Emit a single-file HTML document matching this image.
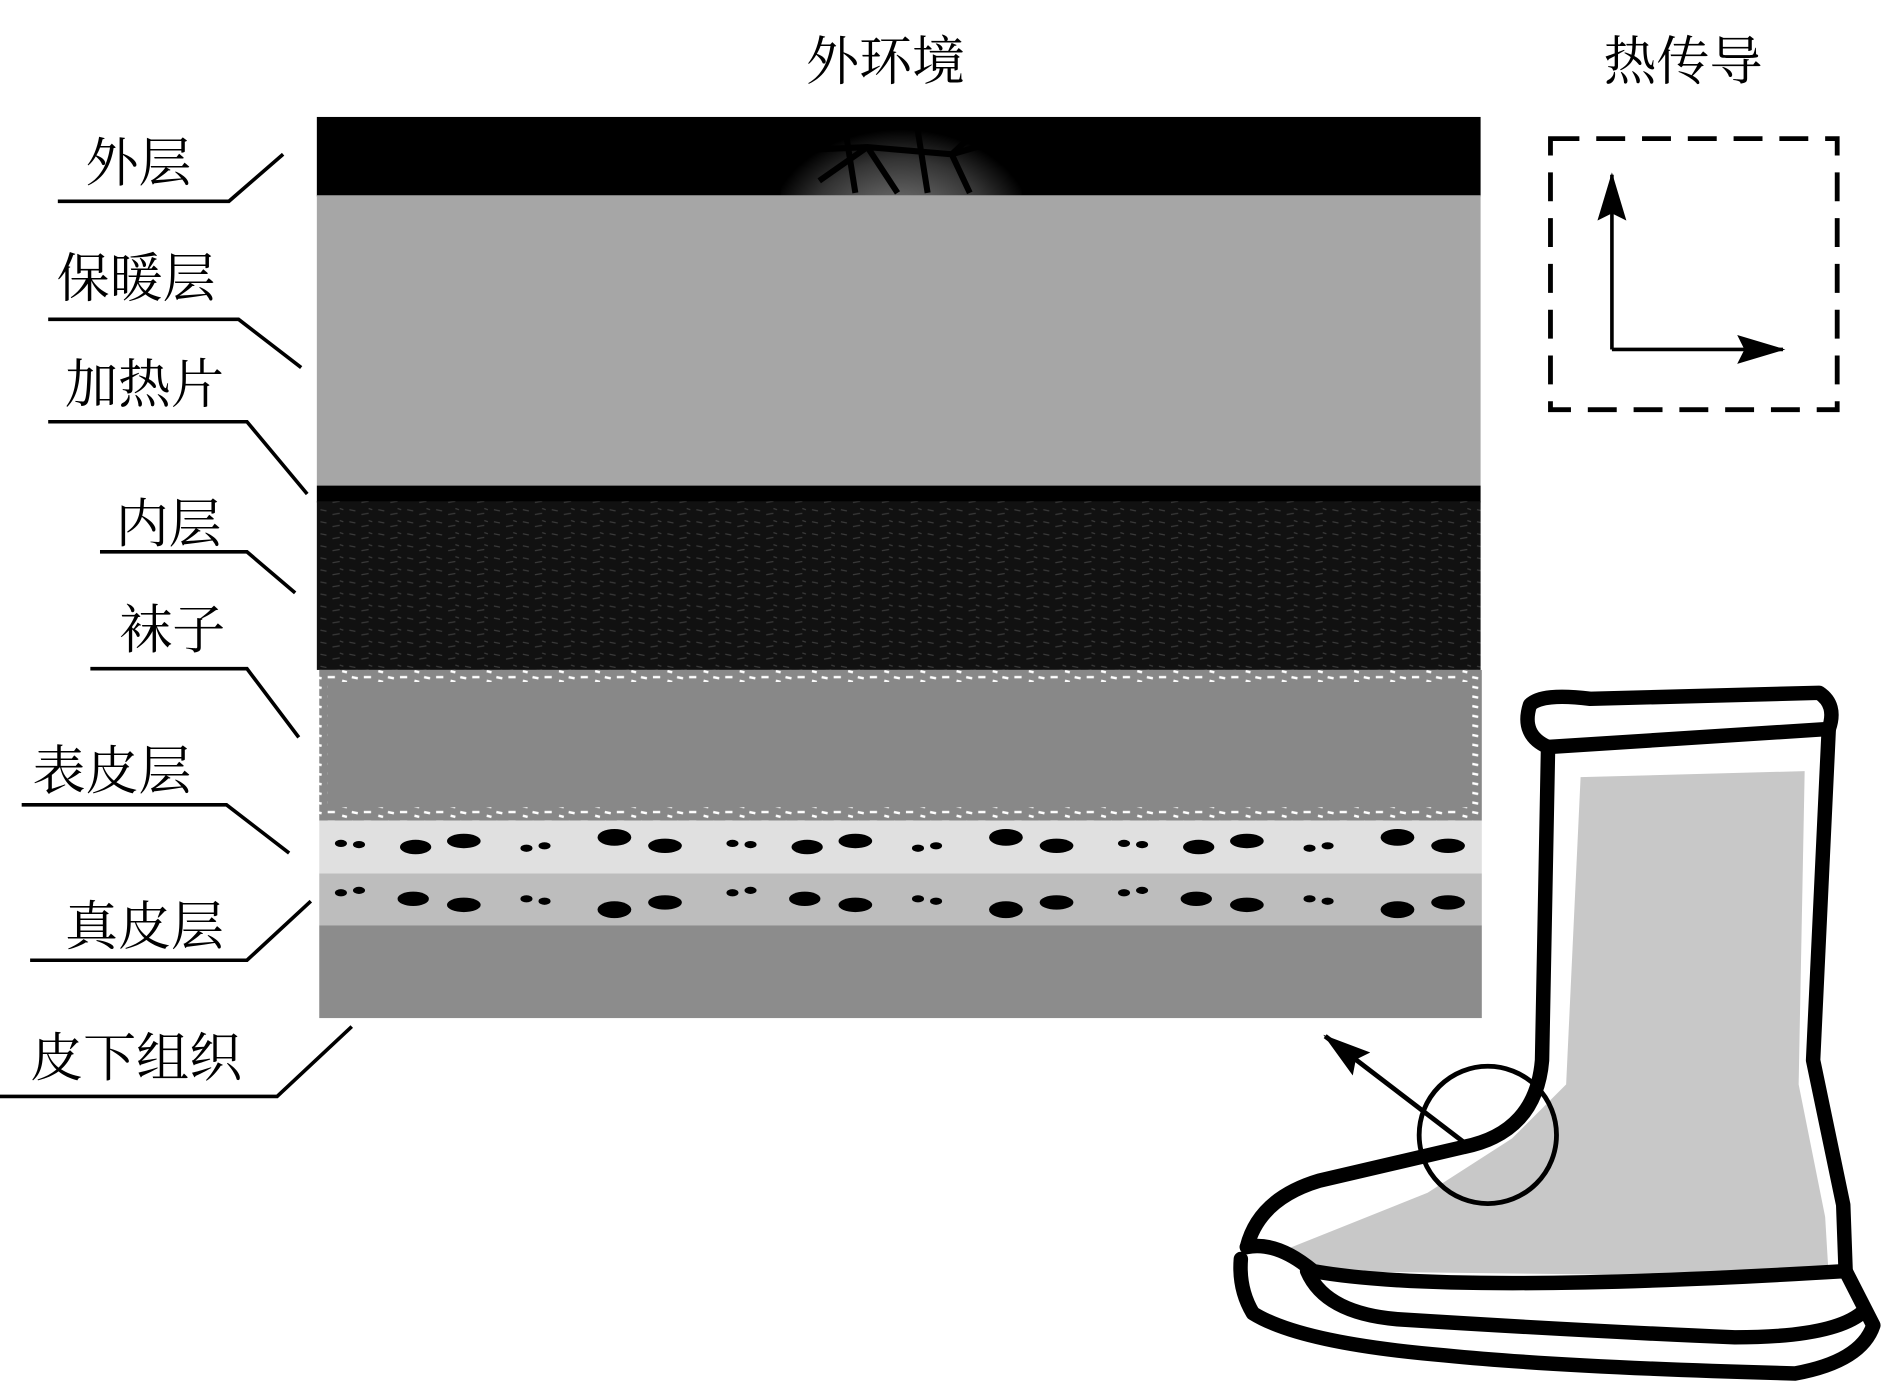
<!DOCTYPE html>
<html><head><meta charset="utf-8"><style>
html,body{margin:0;padding:0;background:#fff;}
svg{display:block}
text{font-family:"Liberation Serif","Noto Serif CJK SC","Noto Sans CJK SC",serif;font-size:44px;fill:#000}
</style></head><body>
<svg width="1889" height="1382" viewBox="0 0 1568 1147" xmlns="http://www.w3.org/2000/svg">
<defs>
<radialGradient id="g1" cx="0.5" cy="0.7" r="0.55">
<stop offset="0" stop-color="#888"/><stop offset="0.7" stop-color="#333"/><stop offset="1" stop-color="#000"/>
</radialGradient>
<clipPath id="cp"><rect x="263" y="97" width="966" height="66"/></clipPath>
<marker id="ah2" markerWidth="40" markerHeight="24" refX="38" refY="12" orient="auto" markerUnits="userSpaceOnUse">
<path d="M0,0 L40,12 L0,24 L6,12 z" fill="#000"/></marker>
<pattern id="noise" width="24" height="10" patternUnits="userSpaceOnUse">
<rect width="24" height="10" fill="#111"/>
<path d="M2,3 l5,1 M12,7 l6,-1 M18,2 l3,1" stroke="#3a3a3a" stroke-width="1"/>
</pattern>
<pattern id="speck" width="30" height="8" patternUnits="userSpaceOnUse">
<rect width="30" height="8" fill="#888"/>
<path d="M2,2 l6,0 M14,5 l4,1 M22,2 l5,1" stroke="#fff" stroke-width="2"/>
</pattern>
</defs>
<text x="735" y="66" text-anchor="middle">外环境</text>
<text x="1397" y="66" text-anchor="middle">热传导</text>
<!-- layers -->
<rect x="263" y="97" width="966" height="66" fill="#000"/>
<g clip-path="url(#cp)">
<ellipse cx="748" cy="160" rx="100" ry="75" fill="url(#g1)"/>
<path d="M700,97 L710,160 M655,125 L720,122 L790,128 L845,112 M760,97 L770,160 M720,122 L745,160 M790,128 L805,160 M680,150 L720,122 M820,100 L790,128" stroke="#000" stroke-width="5" fill="none"/>
</g>
<rect x="263" y="162" width="966" height="241" fill="#a6a6a6"/>
<rect x="263" y="403" width="966" height="14" fill="#000"/>
<rect x="263" y="416" width="966" height="140" fill="url(#noise)"/>
<rect x="265" y="556" width="965" height="125" fill="url(#speck)"/>
<rect x="272" y="566" width="950" height="104" fill="#888"/>
<rect x="265" y="681" width="965" height="44" fill="#e0e0e0"/>
<rect x="265" y="725" width="965" height="43" fill="#bdbdbd"/>
<rect x="265" y="768" width="965" height="77" fill="#8c8c8c"/>
<g fill="#000">
<g id="dots">
<ellipse cx="283" cy="700" rx="5" ry="3"/><ellipse cx="298" cy="701" rx="5" ry="3"/>
<ellipse cx="345" cy="703" rx="13" ry="6"/><ellipse cx="385" cy="698" rx="14" ry="6"/>
<ellipse cx="437" cy="704" rx="5" ry="3"/><ellipse cx="452" cy="702" rx="5" ry="3"/>
<ellipse cx="510" cy="695" rx="14" ry="7"/><ellipse cx="552" cy="702" rx="14" ry="6"/>
</g>
<use href="#dots" x="325"/><use href="#dots" x="650"/>
<g id="dots2">
<ellipse cx="283" cy="741" rx="5" ry="3"/><ellipse cx="298" cy="739" rx="5" ry="3"/>
<ellipse cx="343" cy="746" rx="13" ry="6"/><ellipse cx="385" cy="751" rx="14" ry="6"/>
<ellipse cx="437" cy="746" rx="5" ry="3"/><ellipse cx="452" cy="748" rx="5" ry="3"/>
<ellipse cx="510" cy="755" rx="14" ry="7"/><ellipse cx="552" cy="749" rx="14" ry="6"/>
</g>
<use href="#dots2" x="325"/><use href="#dots2" x="650"/>
</g>
<!-- labels -->
<g stroke="#000" stroke-width="3" fill="none">
<polyline points="48,167 190,167 235,128"/>
<polyline points="40,265 198,265 250,305"/>
<polyline points="40,350 205,350 255,410"/>
<polyline points="83,458 205,458 245,492"/>
<polyline points="75,555 205,555 248,612"/>
<polyline points="18,668 188,668 240,708"/>
<polyline points="25,797 205,797 258,748"/>
<polyline points="0,910 230,910 292,852"/>
</g>
<text x="115" y="150" text-anchor="middle">外层</text>
<text x="113" y="246" text-anchor="middle">保暖层</text>
<text x="120" y="334" text-anchor="middle">加热片</text>
<text x="140" y="450" text-anchor="middle">内层</text>
<text x="143" y="538" text-anchor="middle">袜子</text>
<text x="93" y="655" text-anchor="middle">表皮层</text>
<text x="120" y="784" text-anchor="middle">真皮层</text>
<text x="113" y="893" text-anchor="middle">皮下组织</text>
<!-- dashed box -->
<rect x="1287" y="115" width="238" height="225" fill="none" stroke="#000" stroke-width="4" stroke-dasharray="24,14"/>
<path d="M1338,290 L1338,145" stroke="#000" stroke-width="3" marker-end="url(#ah2)" fill="none"/>
<path d="M1338,290 L1480,290" stroke="#000" stroke-width="3" marker-end="url(#ah2)" fill="none"/>
<!-- boot -->
<path d="M1312,645 L1498,640 L1493,900 L1515,1010 L1518,1060 L1080,1055 L1060,1040 L1185,990 L1255,945 L1300,900 Z" fill="#c8c8c8"/>
<g stroke="#000" stroke-width="12" fill="none" stroke-linejoin="round" stroke-linecap="round">
<path d="M1285,620 Q1262,610 1270,585 Q1280,575 1320,580 L1510,575 Q1525,585 1518,605 L1285,620"/>
<path d="M1285,620 L1280,880 Q1275,940 1215,952 L1095,980 Q1045,995 1035,1035"/>
<path d="M1518,605 L1505,880 L1530,1000 L1532,1055"/>
<path d="M1035,1035 Q1060,1030 1090,1055 Q1200,1075 1532,1055 L1555,1100 Q1545,1130 1490,1140 Q1300,1135 1200,1125 Q1080,1115 1040,1090 Q1028,1070 1030,1045"/>
<path d="M1085,1055 Q1100,1090 1160,1095 Q1320,1105 1440,1110 Q1520,1110 1545,1090"/>
</g>
<circle cx="1235" cy="942" r="57" fill="none" stroke="#000" stroke-width="4"/>
<path d="M1215,948 L1100,860" stroke="#000" stroke-width="4" marker-end="url(#ah2)" fill="none"/>
</svg>
</body></html>
